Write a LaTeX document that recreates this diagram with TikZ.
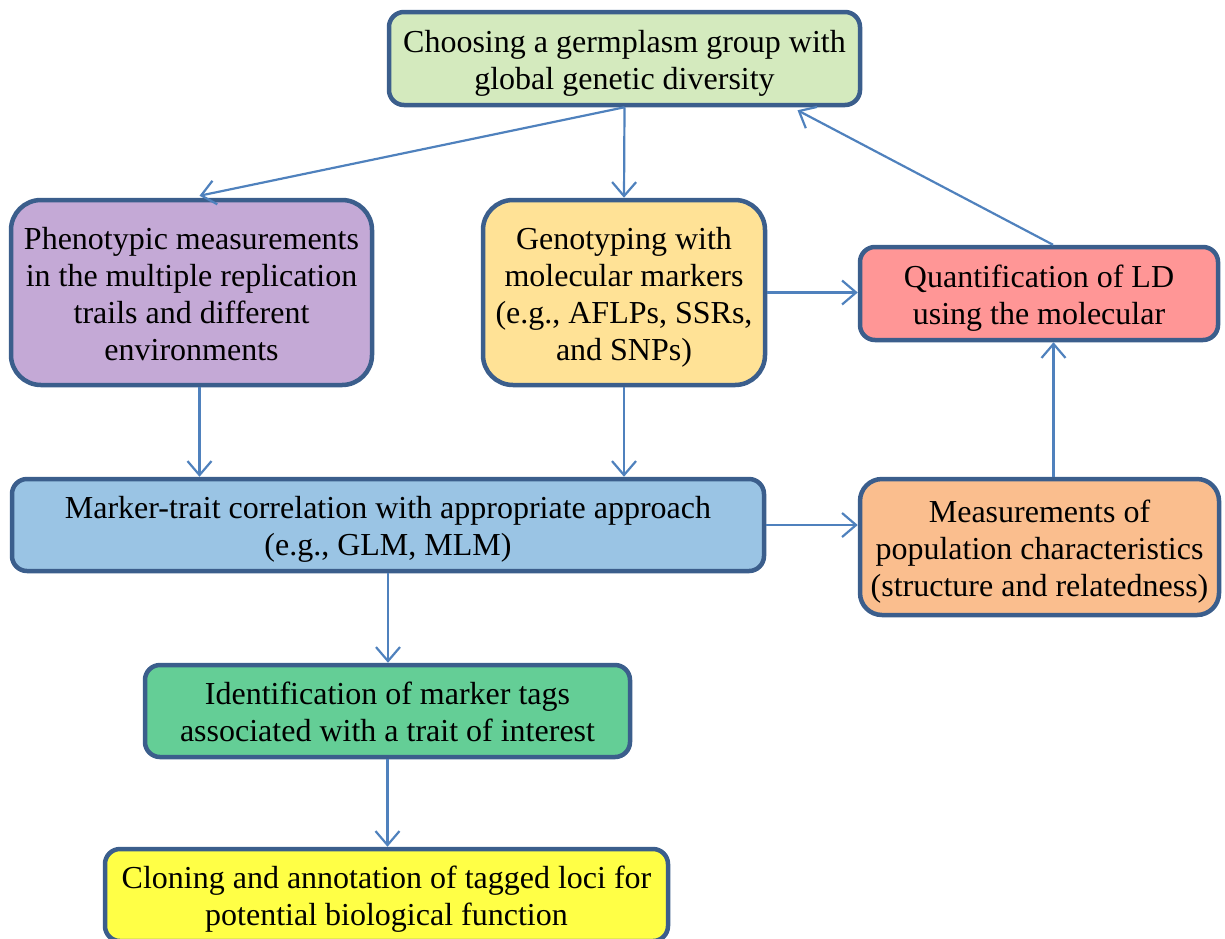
\documentclass[tikz,border=0pt]{standalone}
\usepackage{fontspec}
\setmainfont{Liberation Serif}
\newfontfamily\boxfont{Liberation Serif}
\newcommand\boxtext[1]{\begin{tabular}{@{}c@{}}\rule{0pt}{36pt}#1\end{tabular}}
\usetikzlibrary{arrows.meta}
\definecolor{boxborder}{RGB}{59,94,140}
\definecolor{arrowc}{RGB}{79,129,189}
\definecolor{cTop}{RGB}{212,234,190}
\definecolor{cPhen}{RGB}{196,169,214}
\definecolor{cGen}{RGB}{255,226,150}
\definecolor{cRed}{RGB}{255,150,150}
\definecolor{cBlue}{RGB}{154,196,228}
\definecolor{cOrange}{RGB}{250,190,142}
\definecolor{cGreen}{RGB}{100,206,150}
\definecolor{cYellow}{RGB}{255,255,70}
\begin{document}
\begin{tikzpicture}[x=1pt,y=-1pt,
  box/.style={draw=boxborder, line width=4.5pt, inner sep=0pt,
    font=\boxfont\fontsize{32}{37}\selectfont},
  conn/.style={draw=arrowc, line width=2.2pt,
    -{Straight Barb[length=14pt,width=24pt,line width=2.2pt]}}]
\useasboundingbox (0,0) rectangle (1225,938);
\clip (0,0) rectangle (1225,938);
\node[box, fill=cTop, minimum width=471pt, minimum height=93pt, rounded corners=15pt] (top) at (624.5,58.5)
  {\boxtext{Choosing a germplasm group with\\global genetic diversity}};
\node[box, fill=cPhen, minimum width=361pt, minimum height=185pt, rounded corners=30pt] (phen) at (191.5,292.5)
  {\boxtext{Phenotypic measurements\\in the multiple replication\\trails and different\\environments}};
\node[box, fill=cGen, minimum width=282pt, minimum height=185pt, rounded corners=30pt] (gen) at (624,292.5)
  {\boxtext{Genotyping with\\molecular markers\\(e.g., AFLPs, SSRs,\\and SNPs)}};
\node[box, fill=cRed, minimum width=358pt, minimum height=93pt, rounded corners=15pt] (red) at (1039,293.5)
  {\boxtext{Quantification of LD\\using the molecular}};
\node[box, fill=cBlue, minimum width=752pt, minimum height=92pt, rounded corners=15pt] (blue) at (388,525)
  {\boxtext{Marker-trait correlation with appropriate approach\\(e.g., GLM, MLM)}};
\node[box, fill=cOrange, minimum width=359pt, minimum height=136pt, rounded corners=22pt] (orange) at (1039.5,547)
  {\boxtext{Measurements of\\population characteristics\\(structure and relatedness)}};
\node[box, fill=cGreen, minimum width=485pt, minimum height=92pt, rounded corners=15pt] (green) at (387.5,711)
  {\boxtext{Identification of marker tags\\associated with a trait of interest}};
\node[box, fill=cYellow, minimum width=563pt, minimum height=92pt, rounded corners=15pt] (yel) at (386.5,895)
  {\boxtext{Cloning and annotation of tagged loci for\\potential biological function}};
\draw[conn] (top.south) -- (gen.north);
\draw[conn] (top.south) -- ([xshift=8pt,yshift=2pt]phen.north);
\draw[conn] ([xshift=14pt]red.north) -- ([xshift=173pt,yshift=-3pt]top.south);
\draw[conn] (gen.east) -- (red.west |- gen.east);
\draw[conn] ([xshift=8pt]phen.south) -- ([xshift=8pt]phen.south |- blue.north);
\draw[conn] (gen.south) -- (gen.south |- blue.north);
\draw[conn] (blue.east) -- (orange.west |- blue.east);
\draw[conn] ([xshift=14pt]orange.north) -- ([xshift=14pt]orange.north |- red.south);
\draw[conn] (blue.south) -- (blue.south |- green.north);
\draw[conn] (green.south) -- (green.south |- yel.north);
\end{tikzpicture}
\end{document}
